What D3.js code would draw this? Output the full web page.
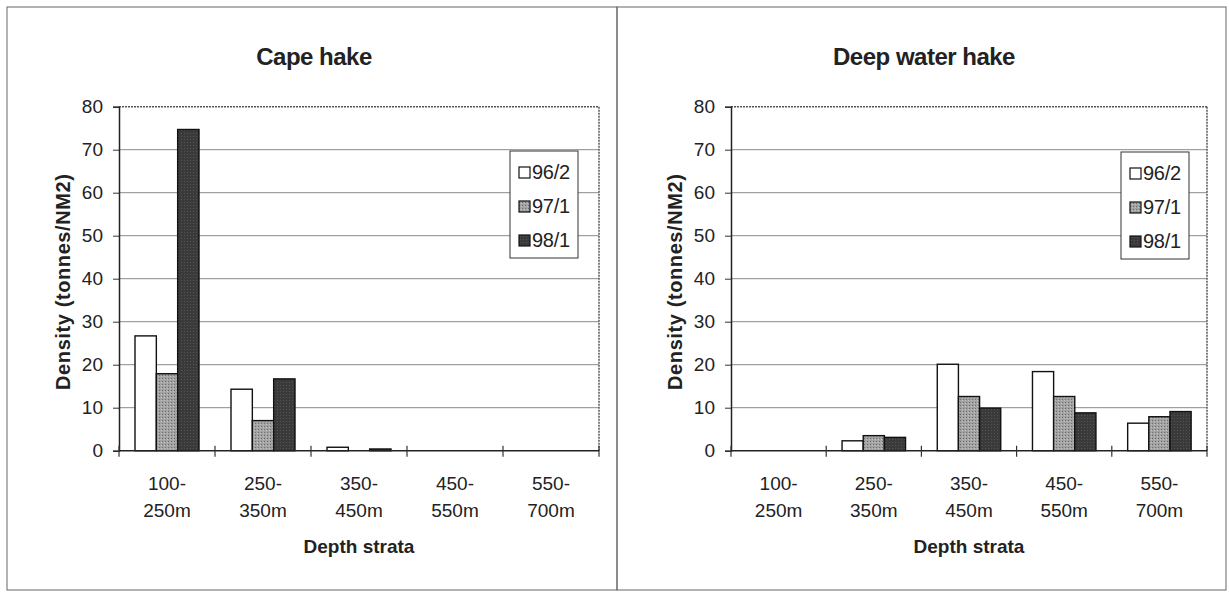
<!DOCTYPE html>
<html>
<head>
<meta charset="utf-8">
<script src="https://cdn.jsdelivr.net/npm/d3@7"></script>
<style>
  html, body { margin: 0; padding: 0; background: #fff; }
  svg { display: block; }
  text { font-family: "Liberation Sans", Arial, sans-serif; fill: #222; }
</style>
</head>
<body>
<svg id="chart" width="1229" height="592"></svg>
<script>
// ---- Data ----
const categories = ["100-250m", "250-350m", "350-450m", "450-550m", "550-700m"];
const tickLine1 = ["100-", "250-", "350-", "450-", "550-"];
const tickLine2 = ["250m", "350m", "450m", "550m", "700m"];
const seriesNames = ["96/2", "97/1", "98/1"];
const yTicks = [0, 10, 20, 30, 40, 50, 60, 70, 80];

const capeHake_96_2 = [26.7, 14.3, 0.8, 0, 0];
const capeHake_97_1 = [17.9, 7.0, 0, 0, 0];
const capeHake_98_1 = [74.7, 16.7, 0.4, 0, 0];

const deepHake_96_2 = [0, 2.3, 20.1, 18.4, 6.4];
const deepHake_97_1 = [0, 3.5, 12.6, 12.6, 7.9];
const deepHake_98_1 = [0, 3.1, 9.9, 8.8, 9.1];

const panels = [
  { title: "Cape hake", series: [capeHake_96_2, capeHake_97_1, capeHake_98_1],
    box: [7, 7, 617, 590], plot: [119, 106.7, 599, 450.7], legend: [510, 151] },
  { title: "Deep water hake", series: [deepHake_96_2, deepHake_97_1, deepHake_98_1],
    box: [617, 7, 1226, 590], plot: [731, 106.7, 1207, 450.7], legend: [1121, 152] }
];

const svg = d3.select("#chart");
const defs = svg.append("defs");

// textured fills resembling the scanned hatching
const p1 = defs.append("pattern").attr("id", "pat97").attr("patternUnits", "userSpaceOnUse")
  .attr("width", 3).attr("height", 3);
p1.append("rect").attr("width", 3).attr("height", 3).attr("fill", "#a2a2a2");
p1.append("rect").attr("x", 0).attr("y", 0).attr("width", 1).attr("height", 1).attr("fill", "#6e6e6e");
p1.append("rect").attr("x", 2).attr("y", 1).attr("width", 1).attr("height", 1).attr("fill", "#c4c4c4");

const p2 = defs.append("pattern").attr("id", "pat98").attr("patternUnits", "userSpaceOnUse")
  .attr("width", 3).attr("height", 3);
p2.append("rect").attr("width", 3).attr("height", 3).attr("fill", "#3a3a3a");
p2.append("rect").attr("x", 1).attr("y", 1).attr("width", 1).attr("height", 1).attr("fill", "#555");

const fills = ["#ffffff", "url(#pat97)", "url(#pat98)"];

panels.forEach(p => {
  const [bx0, by0, bx1, by1] = p.box;
  const [px0, py0, px1, py1] = p.plot;
  const g = svg.append("g");

  // panel border
  g.append("rect").attr("x", bx0).attr("y", by0).attr("width", bx1 - bx0).attr("height", by1 - by0)
    .attr("fill", "none").attr("stroke", "#666").attr("stroke-width", 1);

  const x = d3.scaleBand().domain(categories).range([px0, px1]).padding(0);
  const xs = d3.scaleBand().domain(seriesNames).range([0, x.bandwidth()]).paddingInner(0).paddingOuter(0.75);
  const y = d3.scaleLinear().domain([0, 80]).range([py1, py0]);

  // gridlines
  g.append("g").selectAll("line").data(yTicks.filter(t => t > 0 && t < 80)).join("line")
    .attr("x1", px0).attr("x2", px1).attr("y1", d => y(d)).attr("y2", d => y(d))
    .attr("stroke", "#8a8a8a").attr("stroke-width", 1);

  // plot border top/right (dotted look)
  g.append("line").attr("x1", px0).attr("x2", px1).attr("y1", py0).attr("y2", py0)
    .attr("stroke", "#555").attr("stroke-width", 1.5).attr("stroke-dasharray", "2,1");
  g.append("line").attr("x1", px1).attr("x2", px1).attr("y1", py0).attr("y2", py1)
    .attr("stroke", "#555").attr("stroke-width", 1.5).attr("stroke-dasharray", "2,1");

  // bars
  seriesNames.forEach((s, si) => {
    const vals = p.series[si];
    g.append("g").selectAll("rect").data(categories.map((c, i) => ({ c, v: vals[i] })).filter(d => d.v > 0))
      .join("rect")
      .attr("x", d => x(d.c) + xs(s))
      .attr("y", d => y(d.v))
      .attr("width", xs.bandwidth())
      .attr("height", d => y(0) - y(d.v))
      .attr("fill", fills[si])
      .attr("stroke", "#111").attr("stroke-width", 1.4);
  });

  // y axis
  const yAxis = d3.axisLeft(y).tickValues(yTicks).tickSize(6).tickPadding(10).tickFormat(d3.format("d"));
  const ya = g.append("g").attr("transform", `translate(${px0},0)`).call(yAxis);
  ya.select(".domain").attr("stroke", "#222").attr("stroke-width", 1.5);
  ya.selectAll(".tick line").attr("stroke", "#333");
  ya.selectAll(".tick text").attr("font-size", 19).attr("fill", "#222")
    .style("font-family", "'Liberation Sans', Arial, sans-serif");

  // x axis line with crossing ticks at category boundaries
  g.append("line").attr("x1", px0).attr("x2", px1).attr("y1", py1).attr("y2", py1)
    .attr("stroke", "#222").attr("stroke-width", 1.5);
  const bounds = categories.map(c => x(c)).concat([x(categories[categories.length - 1]) + x.bandwidth()]);
  g.append("g").selectAll("line").data(bounds).join("line")
    .attr("x1", d => d).attr("x2", d => d).attr("y1", py1 - 5).attr("y2", py1 + 6)
    .attr("stroke", "#333").attr("stroke-width", 1.2);

  // x tick labels (two lines)
  categories.forEach((c, i) => {
    const cx = x(c) + x.bandwidth() / 2;
    const t = g.append("text").attr("x", cx).attr("y", py1 + 39).attr("text-anchor", "middle")
      .attr("font-size", 19);
    t.append("tspan").attr("x", cx).text(tickLine1[i]);
    t.append("tspan").attr("x", cx).attr("dy", 27).text(tickLine2[i]);
  });

  // axis titles
  g.append("text").attr("x", (px0 + px1) / 2).attr("y", py1 + 102).attr("text-anchor", "middle")
    .attr("font-size", 19).attr("font-weight", "bold").text("Depth strata");
  g.append("text").attr("transform", `translate(${px0 - 49},${(py0 + py1) / 2 + 3}) rotate(-90)`)
    .attr("text-anchor", "middle").attr("font-size", 20).attr("font-weight", "bold")
    .attr("letter-spacing", 0.6)
    .text("Density (tonnes/NM2)");

  // title
  g.append("text").attr("x", (px0 + px1) / 2 - 45).attr("y", 65).attr("text-anchor", "middle")
    .attr("font-size", 24).attr("font-weight", "bold").attr("letter-spacing", -0.5).text(p.title);

  // legend
  const [lx, ly] = p.legend;
  const lg = g.append("g").attr("transform", `translate(${lx},${ly})`);
  lg.append("rect").attr("width", 68).attr("height", 107).attr("fill", "#fff")
    .attr("stroke", "#333").attr("stroke-width", 1);
  seriesNames.forEach((s, si) => {
    const ry = 21.5 + si * 34;
    lg.append("rect").attr("x", 9).attr("y", ry - 5.5).attr("width", 11).attr("height", 11)
      .attr("fill", fills[si]).attr("stroke", "#111").attr("stroke-width", 1.2);
    lg.append("text").attr("x", 22).attr("y", ry + 6).attr("font-size", 20)
      .attr("letter-spacing", -0.3).text(s);
  });
});
</script>
</body>
</html>
